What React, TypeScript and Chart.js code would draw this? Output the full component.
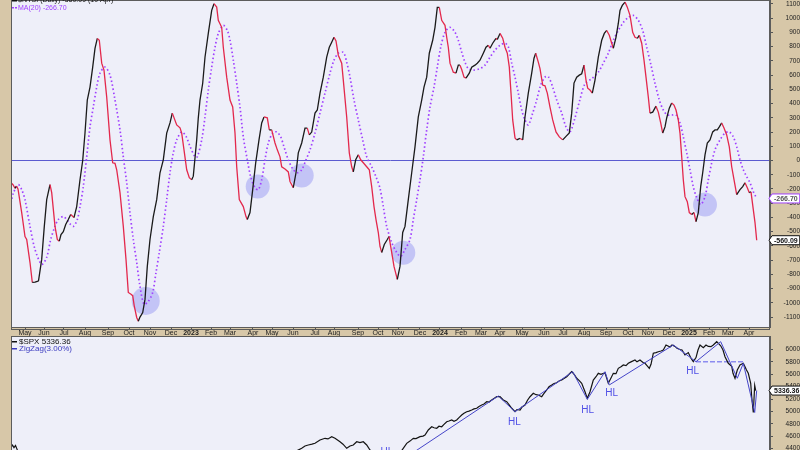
import React, { useEffect, useRef } from 'react';
import { Chart, registerables } from 'chart.js';
Chart.register(...registerables);

const FONT = "'Liberation Sans', Arial, sans-serif";
const TAN = '#d7c7a8';
const PANEL = '#eeeff9';
const X_MIN = 0;
const X_MAX = 759;

// x = trading-day index from the first bar (mid Apr 2022) to 10 Apr 2025
const monthTickDays = [14, 33, 53, 74, 97, 118, 139, 160, 180, 200, 219, 242, 261, 282, 304, 323, 347, 367, 387, 409, 429, 450, 470, 489, 511, 533, 552, 573, 595, 617, 637, 658, 678, 698, 717, 738];
const monthTickLabels = ['May', 'Jun', 'Jul', 'Aug', 'Sep', 'Oct', 'Nov', 'Dec', '2023', 'Feb', 'Mar', 'Apr', 'May', 'Jun', 'Jul', 'Aug', 'Sep', 'Oct', 'Nov', 'Dec', '2024', 'Feb', 'Mar', 'Apr', 'May', 'Jun', 'Jul', 'Aug', 'Sep', 'Oct', 'Nov', 'Dec', '2025', 'Feb', 'Mar', 'Apr'];

const nysiTicks = [-1100, -1000, -900, -800, -700, -600, -500, -400, -300, -200, -100, 0, 100, 200, 300, 400, 500, 600, 700, 800, 900, 1000, 1100];
const spxTicks = [4400, 4600, 4800, 5000, 5200, 5400, 5600, 5800, 6000];

// $NYSI (daily)
const nysiDays = [0, 2, 4, 5.5, 7, 10.7, 14, 15.7, 19, 21.3, 24, 26.3, 27.5, 30.7, 33.3, 35.7, 39, 40.7, 44, 46.3, 48.3, 50, 52.3, 54.7, 57.3, 59.7, 63, 65.7, 69, 71.7, 74, 76.3, 79, 81.7, 84, 86.3, 88.3, 90.7, 93, 95.7, 99, 101.7, 104, 105.7, 109, 112.3, 115, 117.3, 120, 121.7, 123.3, 125.7, 127.3, 129, 131.7, 134, 136.3, 139, 142.3, 145.7, 149, 152.3, 155.7, 159, 161.3, 165.7, 169, 170.7, 173, 175.7, 178.3, 180.7, 182.3, 185.7, 187.3, 189, 191.7, 194, 197.3, 200.7, 203, 205.7, 207.3, 210.7, 212.3, 215.7, 219, 221.7, 224, 225.7, 228.3, 232.3, 235, 236.3, 239, 241.7, 244.7, 248, 250.7, 253, 256.3, 258.3, 260.7, 264, 266.3, 269, 270.7, 274, 277.3, 279, 282.3, 285, 287.3, 290.7, 294, 296.3, 298.3, 300.7, 304, 306.3, 309, 312.3, 315.7, 318.3, 320.7, 323, 325, 327.3, 330.7, 332.3, 335.7, 338.3, 340.7, 342.3, 344.7, 347.3, 349.7, 352.3, 355.7, 358.3, 360.7, 363, 365, 367.3, 369, 370.7, 373.3, 376.3, 378, 380.7, 383, 386.3, 389, 391.7, 394, 397.3, 400.7, 404, 407.3, 410.7, 413, 415.7, 418.3, 421.7, 424, 426.3, 428.3, 430.7, 434, 435.7, 437.3, 439, 442.3, 445, 447.3, 449, 450.7, 453, 455, 458.3, 460.7, 464, 466.3, 469, 472.3, 475, 477.3, 479, 481.7, 485, 486.3, 489, 491.7, 494, 496.3, 498.3, 500, 501.7, 504, 505.7, 509, 511.7, 514, 517.3, 520.7, 523, 524.7, 527.3, 529, 531.7, 534, 536.3, 539, 541.7, 545, 548.3, 551.7, 555, 558.3, 560.7, 563, 565.7, 568.3, 570.7, 573, 575, 576.7, 579, 581.3, 584, 587.3, 590.7, 593.3, 595.7, 598.3, 600.7, 602.3, 605, 607.3, 609, 611.3, 614, 616.3, 619, 621.7, 624, 626.3, 628.3, 630.7, 633, 635, 637.3, 639, 641.7, 645, 647.3, 649.7, 651.7, 654, 655.7, 658.3, 660.7, 663, 665, 667.3, 669, 670.7, 672.3, 674, 676.3, 678.3, 680.7, 683, 685, 687.3, 689.7, 691.7, 694, 696.3, 699, 701.7, 704, 706.3, 708.3, 710.7, 713, 715.7, 718.3, 720.7, 723, 725.7, 729, 731.7, 734, 736.3, 738.3, 740, 742.3, 744, 745.7];
const nysiValues = [-156, -170, -195, -180, -200, -366, -534, -555, -717, -857, -855, -850, -845, -695, -463, -275, -170, -226, -463, -555, -567, -520, -500, -450, -415, -380, -401, -324, -135, 0, 193, 425, 516, 656, 788, 858, 845, 684, 635, 446, 145, -16, -20, -65, -226, -463, -695, -927, -940, -950, -1024, -1103, -1129, -1100, -1069, -976, -744, -555, -394, -275, -86, 5, 193, 264, 333, 250, 230, 193, 75, -65, -121, -135, -110, 145, 300, 425, 543, 726, 893, 1055, 1102, 1078, 985, 936, 796, 586, 425, 376, 193, -44, -275, -324, -394, -415, -366, -205, -16, 145, 264, 306, 300, 215, 215, 123, 75, 26, -44, -60, -80, -147, -191, -86, 54, 123, 228, 228, 180, 200, 333, 355, 474, 586, 726, 796, 831, 866, 840, 740, 684, 565, 306, 54, -44, -79, 5, 40, 5, -16, -44, -65, -184, -324, -415, -506, -604, -646, -590, -555, -534, -646, -744, -835, -744, -506, -463, -275, -86, 96, 306, 425, 516, 586, 754, 845, 936, 1076, 1076, 985, 950, 866, 796, 684, 621, 614, 670, 670, 640, 586, 579, 614, 656, 670, 684, 705, 754, 796, 810, 789, 824, 859, 850, 893, 860, 796, 754, 656, 474, 285, 159, 145, 155, 145, 306, 474, 614, 719, 754, 691, 646, 530, 525, 474, 376, 285, 201, 166, 145, 170, 194, 333, 544, 586, 600, 610, 670, 565, 508, 495, 474, 565, 726, 845, 893, 914, 880, 824, 789, 866, 963, 1055, 1090, 1113, 1078, 1020, 901, 866, 859, 880, 824, 705, 586, 446, 333, 340, 382, 340, 264, 193, 236, 299, 368, 404, 390, 355, 285, 193, 26, -135, -254, -289, -366, -380, -366, -429, -366, -184, -86, 40, 123, 145, 201, 215, 215, 236, 264, 228, 180, 96, -44, -135, -240, -205, -184, -156, -191, -226, -220, -345, -436, -560.09];

// MA(20) of $NYSI
const maDays = [0, 2.3, 7.3, 10.7, 14, 19, 24, 30.7, 35.7, 39.7, 44, 47.3, 52.3, 55.7, 59, 62.3, 66.3, 69, 72.3, 75.7, 79, 82.3, 85.7, 89, 94, 99, 104, 109, 112.3, 115.7, 119, 122.3, 125.7, 129, 133, 137.3, 141.7, 145, 148.3, 152.3, 155.7, 159, 162.3, 165.7, 170.7, 175, 179, 184, 186.3, 190.7, 194, 197.3, 200.7, 204, 207.3, 212.3, 216.3, 219, 222.3, 225.7, 229, 232.3, 236.3, 239.7, 244, 247.3, 250.7, 254, 257.3, 261.7, 265.7, 269.7, 273, 277.3, 282.3, 286.3, 290.7, 295, 299, 304, 309, 314, 319, 323, 327.3, 332.3, 335.7, 339, 343, 347.3, 351.7, 355.7, 360.7, 365, 369, 372.3, 375.7, 380.7, 385.7, 389.7, 394, 399, 402.3, 405.7, 409, 412.3, 415.7, 419, 423, 426.3, 429.7, 434, 439, 444, 447.3, 450.7, 454, 457.3, 462.3, 469, 474, 479, 484, 489, 494, 497.3, 500.7, 504, 507.3, 510.7, 514, 517.3, 521.7, 525.7, 529.7, 534, 537.3, 541.7, 545.7, 550.7, 555, 559, 564, 569, 574, 580.7, 587.3, 592.3, 597.3, 602.3, 607.3, 612.3, 617.3, 622.3, 627.3, 631.7, 635.7, 640, 644, 648.3, 652.3, 656.3, 660.7, 665, 669, 672.3, 675.7, 679, 682.3, 685.7, 689.7, 694, 697.3, 700.7, 704, 709, 714, 718.3, 722.3, 725.7, 729, 732.3, 735.7, 739, 742.3, 745.7];
const maValues = [-297, -230, -170, -205, -275, -463, -625, -730, -680, -555, -463, -415, -394, -415, -445, -463, -415, -324, -184, 26, 236, 376, 516, 614, 656, 600, 425, 215, 26, -156, -366, -555, -717, -885, -1010, -990, -927, -787, -646, -463, -275, -86, 54, 145, 201, 170, 100, 26, 26, 145, 306, 495, 656, 796, 893, 949, 914, 845, 705, 543, 376, 166, 5, -114, -191, -205, -135, 5, 123, 193, 201, 166, 96, 5, -65, -86, -65, 5, 75, 193, 333, 474, 614, 705, 754, 760, 691, 586, 425, 285, 145, 26, -44, -114, -195, -324, -463, -576, -646, -674, -625, -555, -415, -275, -135, 26, 215, 376, 516, 656, 796, 901, 936, 901, 845, 761, 691, 646, 635, 646, 670, 726, 775, 810, 824, 800, 684, 586, 474, 355, 285, 250, 333, 425, 530, 586, 590, 516, 425, 333, 236, 201, 300, 430, 540, 575, 621, 684, 754, 845, 914, 970, 1006, 1020, 985, 914, 796, 670, 543, 425, 355, 320, 320, 320, 264, 166, 54, -65, -184, -261, -310, -254, -135, -16, 75, 145, 193, 201, 166, 96, 5, -65, -114, -156, -219, -266.7];

// highlighted MA turning points (blue circles)
const circleDays = [134.7, 246.7, 290.7, 392.3, 694];
const circleValues = [-987, -182, -105, -648, -310];

// $SPX (daily close)
const spxDays = [0, 1.5, 3, 4.5, 6, 8, 13, 19, 29, 39, 49, 64, 74, 84, 99, 109, 119, 134, 149, 164, 179, 194, 204, 214, 229, 249, 269, 284, 290.7, 294, 297.3, 301, 304, 309, 314, 317, 320.7, 324, 329, 332, 335.7, 339, 342.3, 345.7, 349, 352.3, 355.7, 359, 364, 372, 381, 386, 390, 395.7, 399, 402.3, 405, 409, 412, 414, 417.3, 420.7, 423, 425.7, 428, 430.7, 433, 435.7, 438, 440.7, 443, 445.7, 448, 450.7, 453, 455.7, 458, 460.7, 463, 465.7, 468, 470.7, 473, 475.7, 478, 480.7, 483, 485.7, 489, 492.3, 495.7, 498, 500.7, 504, 506, 509, 511, 514, 516.5, 519, 522.3, 525, 527.3, 530.7, 533, 535.7, 538, 540.7, 543, 545.7, 548, 550.7, 553, 555.7, 558, 560.7, 562.3, 564, 565.7, 568, 570.7, 574, 576.3, 579, 582.3, 585, 587.3, 590, 594, 597.3, 600, 602.3, 605, 607.3, 610, 612.3, 615, 617.3, 620, 624, 626, 629, 632, 634, 636, 638.3, 640, 642.3, 645, 647.3, 650, 652.3, 655, 659, 661, 664, 666, 669, 671, 674, 677.3, 680, 682.3, 685, 687, 689, 692.3, 695, 697.3, 700, 702.3, 705.7, 709.7, 712, 714, 717.3, 720.7, 722, 724, 726.3, 729, 732.3, 734, 735.5, 737.3, 739.7, 740.7, 742.3, 743.7, 744.7, 745.7];
const spxValues = [4420, 4455, 4415, 4450, 4390, 4300, 4150, 4000, 3900, 3700, 3850, 4100, 4280, 4000, 3700, 3600, 3750, 3950, 4050, 3850, 3900, 4150, 4000, 3900, 4050, 4150, 4250, 4350, 4403, 4440, 4457, 4470, 4484, 4537, 4565, 4555, 4591, 4565, 4510, 4470, 4403, 4440, 4457, 4510, 4495, 4510, 4457, 4376, 4300, 4200, 4117, 4200, 4350, 4484, 4520, 4565, 4560, 4591, 4600, 4618, 4699, 4752, 4735, 4727, 4760, 4752, 4790, 4833, 4845, 4861, 4840, 4861, 4900, 4942, 4970, 4995, 5005, 5022, 5040, 5050, 5080, 5103, 5120, 5156, 5150, 5184, 5210, 5237, 5237, 5184, 5156, 5110, 5050, 4995, 5030, 5022, 5070, 5103, 5180, 5237, 5292, 5270, 5265, 5237, 5290, 5346, 5400, 5426, 5450, 5463, 5490, 5507, 5530, 5560, 5600, 5641, 5615, 5580, 5535, 5500, 5454, 5318, 5211, 5318, 5507, 5560, 5615, 5600, 5625, 5454, 5540, 5615, 5610, 5696, 5720, 5750, 5740, 5777, 5800, 5830, 5800, 5830, 5790, 5777, 5740, 5696, 5760, 5939, 5950, 5964, 5975, 5992, 6073, 6040, 6073, 6050, 6019, 6000, 5992, 5911, 5950, 5858, 5803, 5870, 5992, 6073, 6030, 6073, 6050, 6045, 6073, 6126, 6060, 5992, 5884, 5777, 5730, 5615, 5535, 5669, 5750, 5777, 5720, 5669, 5615, 5454, 5237, 4982, 5420, 5336.36];

// ZigZag(3.00%) swing points
const zigDays = [382, 487.3, 504, 561.7, 576.3, 594, 598.3, 662.3, 685, 709.7, 726.3, 732.3, 743.7, 745.7];
const zigValues = [4117, 5249, 4995, 5641, 5195, 5641, 5427, 6073, 5803, 6126, 5535, 5777, 4982, 5336.36];

// dashed support from the January higher low
const supportDays = [685, 734];
const supportValues = [5803, 5803];

// "HL" (higher low) annotations
const hlDays = [376, 503.3, 576.7, 600.7, 681.7];
const hlValues = [4335, 4824, 5011, 5292, 5641];

const nysiLast = -560.09;
const maLast = -266.7;
const spxLast = 5336.36;

const pts = (xs: number[], ys: number[]) => xs.map((x, i) => ({ x, y: ys[i] }));

const panelPlugin = {
  id: 'panel',
  beforeDraw(chart: any) {
    const { ctx, chartArea: a, width, height } = chart;
    ctx.save();
    ctx.fillStyle = TAN;
    ctx.fillRect(0, 0, width, height);
    ctx.fillStyle = PANEL;
    ctx.fillRect(a.left, a.top, a.right - a.left, a.bottom - a.top);
    ctx.restore();
  },
  afterDraw(chart: any) {
    const { ctx, chartArea: a } = chart;
    ctx.save();
    ctx.strokeStyle = '#5c5c5c';
    ctx.lineWidth = 1;
    ctx.strokeRect(Math.floor(a.left) + 0.5, Math.floor(a.top) + 0.5, Math.round(a.right - a.left) - 1, Math.round(a.bottom - a.top) + 2);
    ctx.restore();
  },
};

function valueBox(ctx: CanvasRenderingContext2D, x: number, y: number, text: string, stroke: string, color: string) {
  ctx.save();
  ctx.font = `bold 7px ${FONT}`;
  const w = ctx.measureText(text).width + 4;
  const h = 9;
  ctx.beginPath();
  ctx.moveTo(x, y);
  ctx.lineTo(x + 3, y - h / 2);
  ctx.lineTo(x + 3 + w, y - h / 2);
  ctx.lineTo(x + 3 + w, y + h / 2);
  ctx.lineTo(x + 3, y + h / 2);
  ctx.closePath();
  ctx.fillStyle = '#ffffff';
  ctx.fill();
  ctx.strokeStyle = stroke;
  ctx.lineWidth = 1;
  ctx.stroke();
  ctx.fillStyle = color;
  ctx.textBaseline = 'middle';
  ctx.textAlign = 'left';
  ctx.fillText(text, x + 5, y + 0.5);
  ctx.restore();
}

const topOverlay = {
  id: 'topOverlay',
  afterDraw(chart: any) {
    const { ctx, chartArea: a } = chart;
    const y = chart.scales.y;
    ctx.save();
    ctx.font = `7px ${FONT}`;
    ctx.textBaseline = 'middle';
    ctx.fillStyle = '#111';
    ctx.fillRect(12, -0.5, 5, 2);
    ctx.fillText('$NYSI (Daily) -560.09 (10 Apr)', 18, 0.5);
    ctx.fillStyle = '#a040ff';
    ctx.fillRect(12, 7, 2, 1.5);
    ctx.fillRect(15, 7, 2, 1.5);
    ctx.fillText('MA(20) -266.70', 18, 8);
    ctx.restore();
    valueBox(ctx, a.right - 1, y.getPixelForValue(maLast), '-266.70', '#a040ff', '#555');
    valueBox(ctx, a.right - 1, y.getPixelForValue(nysiLast), '-560.09', '#111', '#111');
  },
};

const bottomOverlay = {
  id: 'bottomOverlay',
  afterDatasetsDraw(chart: any) {
    const { ctx } = chart;
    const xs = chart.scales.x;
    const ys = chart.scales.y;
    ctx.save();
    ctx.font = `10px ${FONT}`;
    ctx.fillStyle = '#5050e6';
    ctx.textAlign = 'center';
    ctx.textBaseline = 'middle';
    hlDays.forEach((d, i) => ctx.fillText('HL', xs.getPixelForValue(d), ys.getPixelForValue(hlValues[i])));
    ctx.restore();
  },
  afterDraw(chart: any) {
    const { ctx, chartArea: a } = chart;
    const ys = chart.scales.y;
    ctx.save();
    ctx.font = `8px ${FONT}`;
    ctx.textBaseline = 'middle';
    ctx.fillStyle = '#111';
    ctx.fillRect(12, 5, 5, 1.5);
    ctx.fillText('$SPX 5336.36', 19, 6);
    ctx.fillStyle = '#3a3ac0';
    ctx.fillRect(12, 12, 5, 1.5);
    ctx.fillText('ZigZag(3.00%)', 19, 13);
    ctx.restore();
    valueBox(ctx, a.right - 1, ys.getPixelForValue(spxLast), '5336.36', '#111', '#111');
  },
};

const fixedY = (width: number) => (s: any) => {
  s.width = width;
  s.paddingTop = 0;
  s.paddingBottom = 0;
};

function topConfig(): any {
  return {
    type: 'line',
    data: {
      datasets: [
        {
          label: '$NYSI',
          data: pts(nysiDays, nysiValues),
          borderColor: '#1a1a1a',
          borderWidth: 1.3,
          pointRadius: 0,
          tension: 0,
          segment: {
            borderColor: (c: any) => (c.p1.parsed.y >= c.p0.parsed.y ? '#1a1a1a' : '#e3284c'),
          },
          order: 1,
        },
        {
          label: 'MA(20)',
          data: pts(maDays, maValues),
          borderColor: '#a040ff',
          borderWidth: 1.7,
          borderDash: [1.5, 2.5],
          pointRadius: 0,
          tension: 0.3,
          order: 2,
        },
        {
          label: 'zero',
          data: pts([X_MIN, X_MAX], [0, 0]),
          borderColor: '#5b5bd0',
          borderWidth: 1,
          pointRadius: 0,
          order: 3,
        },
        {
          type: 'scatter',
          label: 'turns',
          data: pts(circleDays, circleValues),
          pointRadius: (c: any) => (c.dataIndex === 0 ? 14 : 12),
          pointHoverRadius: 0,
          backgroundColor: 'rgba(110,110,240,0.33)',
          borderWidth: 0,
          order: 4,
        },
      ],
    },
    options: {
      animation: false,
      responsive: false,
      devicePixelRatio: 1,
      events: [],
      layout: { autoPadding: false, padding: { left: 11, right: 0, top: 0, bottom: 0 } },
      plugins: { legend: { display: false }, tooltip: { enabled: false } },
      scales: {
        x: {
          type: 'linear',
          min: X_MIN,
          max: X_MAX,
          afterBuildTicks: (s: any) => {
            s.ticks = monthTickDays.map((v) => ({ value: v }));
          },
          afterFit: (s: any) => {
            s.height = 9;
            s.paddingLeft = 0;
            s.paddingRight = 0;
          },
          ticks: {
            autoSkip: false,
            maxRotation: 0,
            padding: 0,
            color: '#222',
            callback: (v: number) => monthTickLabels[monthTickDays.indexOf(v)] ?? '',
            font: (c: any) => {
              const lab = monthTickLabels[monthTickDays.indexOf(c.tick?.value)] || '';
              return { family: FONT, size: 7, weight: lab.startsWith('20') ? 'bold' : 'normal' };
            },
          },
          grid: { drawOnChartArea: false, tickLength: 2, color: '#555' },
          border: { color: '#5c5c5c' },
        },
        y: {
          position: 'right',
          min: -1170,
          max: 1128,
          afterBuildTicks: (s: any) => {
            s.ticks = nysiTicks.map((v) => ({ value: v }));
          },
          afterFit: fixedY(30),
          ticks: {
            crossAlign: 'far',
            padding: 0,
            color: '#222',
            font: { family: FONT, size: 6.5 },
            callback: (v: number) => String(v),
          },
          grid: { drawOnChartArea: false, tickLength: 3, color: '#555' },
          border: { color: '#5c5c5c' },
        },
      },
    },
    plugins: [panelPlugin, topOverlay],
  };
}

function bottomConfig(): any {
  return {
    type: 'line',
    data: {
      datasets: [
        {
          label: '$SPX',
          data: pts(spxDays, spxValues),
          borderColor: '#141414',
          borderWidth: 1.2,
          pointRadius: 0,
          tension: 0,
          order: 2,
        },
        {
          label: 'ZigZag(3.00%)',
          data: pts(zigDays, zigValues),
          borderColor: '#4545c8',
          borderWidth: 1,
          pointRadius: 0,
          tension: 0,
          order: 1,
        },
        {
          label: 'support',
          data: pts(supportDays, supportValues),
          borderColor: '#8c8cf0',
          borderWidth: 1.6,
          borderDash: [5, 2],
          pointRadius: 0,
          order: 3,
        },
      ],
    },
    options: {
      animation: false,
      responsive: false,
      devicePixelRatio: 1,
      events: [],
      layout: { autoPadding: false, padding: { left: 11, right: 0, top: 0, bottom: 0 } },
      plugins: { legend: { display: false }, tooltip: { enabled: false } },
      scales: {
        x: { type: 'linear', min: X_MIN, max: X_MAX, display: false },
        y: {
          position: 'right',
          min: 4376,
          max: 6218,
          afterBuildTicks: (s: any) => {
            s.ticks = spxTicks.map((v) => ({ value: v }));
          },
          afterFit: fixedY(30),
          ticks: {
            crossAlign: 'far',
            padding: 1,
            color: '#222',
            font: { family: FONT, size: 6.5 },
            callback: (v: number) => String(v),
          },
          grid: { drawOnChartArea: false, tickLength: 3, color: '#555' },
          border: { color: '#5c5c5c' },
        },
      },
    },
    plugins: [panelPlugin, bottomOverlay],
  };
}

export default function App() {
  const topRef = useRef<HTMLCanvasElement>(null);
  const botRef = useRef<HTMLCanvasElement>(null);
  useEffect(() => {
    const c1 = new Chart(topRef.current as HTMLCanvasElement, topConfig());
    const c2 = new Chart(botRef.current as HTMLCanvasElement, bottomConfig());
    return () => {
      c1.destroy();
      c2.destroy();
    };
  }, []);
  return (
    <div style={{ position: 'fixed', left: 0, top: 0, width: 800, height: 450, background: TAN, overflow: 'hidden' }}>
      <canvas ref={topRef} width={800} height={336} style={{ position: 'absolute', left: 0, top: 0, width: 800, height: 336 }} />
      <canvas ref={botRef} width={800} height={114} style={{ position: 'absolute', left: 0, top: 336, width: 800, height: 114 }} />
    </div>
  );
}
